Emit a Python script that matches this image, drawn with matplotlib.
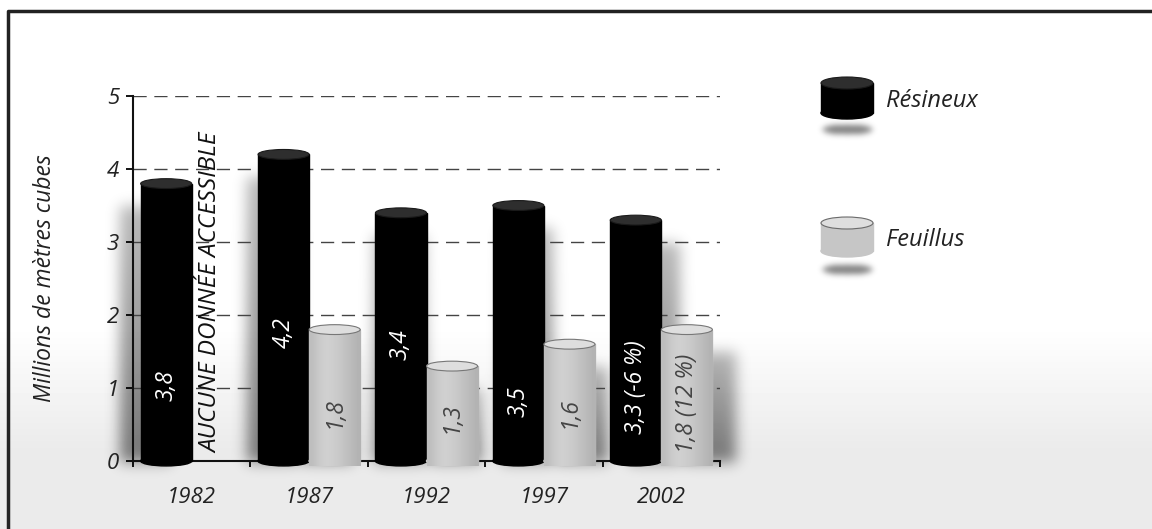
import matplotlib.pyplot as plt
import numpy as np
from matplotlib.patches import Ellipse, Rectangle

# volumes récoltés, en millions de mètres cubes
years = ['1982', '1987', '1992', '1997', '2002']
resineux = [3.8, 4.2, 3.4, 3.5, 3.3]
feuillus = [None, 1.8, 1.3, 1.6, 1.8]
# variation 1997-2002 (%)
resineux_change = -6
feuillus_change = 12

# hauteur (en unités de l'axe) où l'on écrit la valeur dans chaque colonne
resineux_label_y = [1.04, 1.76, 1.6, 0.81, 1.01]
feuillus_label_y = [None, 0.66, 0.59, 0.66, 0.79]

W, H, DPI = 1152, 529, 100
FONT = ['Open Sans', 'DejaVu Sans']
BAR_W = 0.435
CAP_H = 0.135


def fmt(v, change=None):
    s = f'{v:.1f}'.replace('.', ',')
    if change is not None:
        s += f' ({change} %)'
    return s


def blur(a, sigma):
    r = int(3 * sigma)
    k = np.exp(-0.5 * (np.arange(-r, r + 1) / sigma) ** 2)
    k /= k.sum()
    a = np.apply_along_axis(lambda v: np.convolve(v, k, mode='same'), 0, a)
    a = np.apply_along_axis(lambda v: np.convolve(v, k, mode='same'), 1, a)
    return a


def cylinder(ax, x0, w, h, body, cap, edge, cap_h, z, shading=None):
    ax.add_patch(Ellipse((x0 + w / 2, 0), w, cap_h, color=body, zorder=z,
                         clip_on=False))
    rect = Rectangle((x0, 0), w, h, color=body, zorder=z, clip_on=False)
    ax.add_patch(rect)
    if shading is not None:
        # dégradé horizontal pour donner du volume au fût
        im = ax.imshow(shading[None, :], cmap='gray', vmin=0, vmax=1,
                       extent=(x0, x0 + w, -cap_h / 2, h), aspect='auto',
                       interpolation='bicubic', zorder=z + 0.05)
        im.set_clip_on(False)
        bottom = Ellipse((x0 + w / 2, 0), w, cap_h, transform=ax.transData)
        im.set_clip_path(rect)
        ax.add_patch(Ellipse((x0 + w / 2, 0), w, cap_h,
                             facecolor=tuple([shading.mean()] * 3),
                             edgecolor='none', zorder=z + 0.04,
                             clip_on=False))
    ax.add_patch(Ellipse((x0 + w / 2, h), w, cap_h, facecolor=cap,
                         edgecolor=edge, lw=0.8, zorder=z + 0.1,
                         clip_on=False))


fig = plt.figure(figsize=(W / DPI, H / DPI), dpi=DPI)

# fond : blanc en haut, dégradé vers le gris clair en bas
bg = fig.add_axes([0, 0, 1, 1], zorder=-1)
bg.set_xlim(0, W)
bg.set_ylim(H, 0)
bg.axis('off')
rows = np.arange(H)
shade = np.clip((rows - 325) / (450 - 325), 0, 1)
level = 1 - shade * (1 - 0.92)
grad = np.repeat(level[:, None], W, axis=1)
bg.imshow(grad, cmap='gray', vmin=0, vmax=1, extent=(0, W, H, 0),
          aspect='auto', interpolation='bilinear')

ax = fig.add_axes([133 / W, (H - 461) / H, (720 - 133) / W, (461 - 96) / H])
ax.set_facecolor('none')
ax.set_xlim(-0.5, 4.5)
ax.set_ylim(0, 5)

x = np.arange(len(years))

# ombres portées des colonnes, calculées en pixels puis floutées
mask = np.zeros((H, W))
yy, xx = np.mgrid[0:H, 0:W]
for i in x:
    for x0, v in ((i - BAR_W, resineux[i]), (i, feuillus[i])):
        if v is None:
            continue
        (px0, py0), (px1, py1) = ax.transData.transform([(x0, 0),
                                                         (x0 + BAR_W, v)])
        top, bot = H - py1 + 22, H - py0
        dx = 0.085 * ((px0 + px1) / 2 - 420)
        sel = ((yy >= top) & (yy <= bot) &
               (xx >= px0 + dx) & (xx <= px1 + dx))
        ramp = 0.55 + 0.45 * (yy - top) / max(bot - top, 1)
        mask = np.where(sel, np.maximum(mask, ramp), mask)
mask = blur(mask, 7) * 0.5

# ombres de la légende
leg_mask = np.zeros((H, W))
for cy in (129, 269):
    leg_mask[((xx - 847) / 25) ** 2 + ((yy - cy) / 5) ** 2 <= 1] = 1
mask = np.maximum(mask, blur(leg_mask, 3) * 0.5)

rgba = np.zeros((H, W, 4))
rgba[..., 3] = mask
bg.imshow(rgba, extent=(0, W, H, 0), aspect='auto', interpolation='bilinear')

# cadre
bg.plot([8, 8, W], [H, 11, 11], color='#222222', lw=2.5,
        solid_capstyle='butt')

# lignes de repère pointillées
for yv in range(1, 6):
    ax.axhline(yv, color='#444444', lw=1.0, dashes=(9.5, 5.5), zorder=1)

gray_shading = np.array([0.74, 0.8, 0.82, 0.8, 0.77, 0.74, 0.7])

# colonnes cylindriques
for i in x:
    cylinder(ax, i - BAR_W, BAR_W, resineux[i], 'black', '#2e2e2e',
             '#1a1a1a', CAP_H, 4)
    ch = resineux_change if i == len(x) - 1 else None
    ax.text(i - BAR_W / 2, resineux_label_y[i], fmt(resineux[i], ch),
            rotation=90, ha='center', va='center', color='white',
            fontsize=16.5, style='italic', family=FONT, zorder=6)
    if feuillus[i] is None:
        continue
    cylinder(ax, i, BAR_W, feuillus[i], '#c6c6c6', '#dedede', '#777777',
             CAP_H, 4, shading=gray_shading)
    ch = feuillus_change if i == len(x) - 1 else None
    ax.text(i + BAR_W / 2, feuillus_label_y[i], fmt(feuillus[i], ch),
            rotation=90, ha='center', va='center', color='#444444',
            fontsize=16.5, style='italic', family=FONT, zorder=6)

ax.text(0.17, 2.31, 'AUCUNE DONNÉE ACCESSIBLE', rotation=90, ha='center',
        va='center', color='#111111', fontsize=17.5, style='italic',
        family=FONT, zorder=6)

# axes
for side in ('top', 'right'):
    ax.spines[side].set_visible(False)
for side in ('left', 'bottom'):
    ax.spines[side].set_linewidth(1.5)
    ax.spines[side].set_color('#111111')
ax.set_yticks(range(6))
ax.set_yticklabels([str(t) for t in range(6)], fontsize=16, style='italic',
                   family=FONT, color='#222222')
ax.tick_params(axis='y', direction='out', length=5, width=1.3, pad=5)
ax.set_xticks(np.arange(-0.5, 5, 1))
ax.set_xticklabels([])
ax.tick_params(axis='x', which='major', direction='out', length=4, width=1.3)
ax.set_xticks(x, minor=True)
ax.set_xticklabels(years, minor=True, fontsize=16, style='italic',
                   family=FONT, color='#222222')
ax.tick_params(axis='x', which='minor', length=0, pad=19)

fig.text(45 / W, 1 - 278 / H, 'Millions de mètres cubes', rotation=90,
         ha='center', va='center', fontsize=16.5, style='italic',
         family=FONT, color='#222222')

# légende
for cy, cb, label, body, cap, edge in (
        (83, 113, 'Résineux', 'black', '#2e2e2e', '#1a1a1a'),
        (223, 251, 'Feuillus', '#c6c6c6', '#dedede', '#6a6a6a')):
    bg.add_patch(Ellipse((847, cb), 52, 12, color=body, zorder=3))
    bg.add_patch(Rectangle((821, cy), 52, cb - cy, color=body, zorder=3))
    bg.add_patch(Ellipse((847, cy), 52, 12, facecolor=cap, edgecolor=edge,
                         lw=0.8, zorder=3.1))
    bg.text(886, (cy + cb) / 2 + 3, label, ha='left', va='center',
            fontsize=17, style='italic', family=FONT, color='#222222')

fig.savefig('out.png', dpi=DPI)
